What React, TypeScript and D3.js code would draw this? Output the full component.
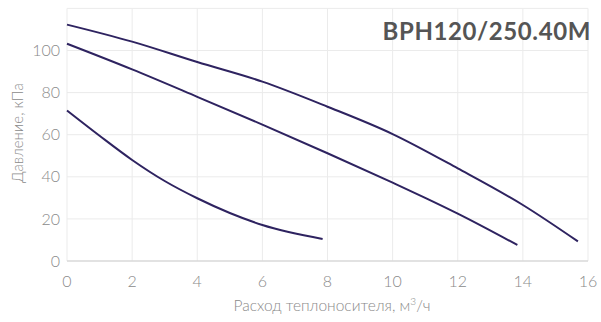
import { useEffect, useRef } from "react"
import * as d3 from "d3"

const title = "BPH120/250.40M"
const xTicks = [0, 2, 4, 6, 8, 10, 12, 14, 16]
const yTicks = [0, 20, 40, 60, 80, 100, 120]

// curves: [flow m3/h, pressure kPa]
const highSpeed: [number, number][] = [
  [0, 112.3], [2, 104.2], [4, 94.5], [6, 85.2], [8, 73.3], [10, 60.3],
  [12, 44], [14, 26.6], [15.69, 9.3],
]
const midSpeed: [number, number][] = [
  [0, 103.2], [2, 91], [4, 78], [6, 64.8], [8, 51.2], [10, 37.2],
  [11, 30], [12, 22.5], [13.83, 7.6],
]
const lowSpeed: [number, number][] = [
  [0, 71.5], [1, 59.5], [2, 48], [3, 38], [4, 29.8], [5, 22.8],
  [6, 17.1], [7.85, 10.5],
]
const curves = [highSpeed, midSpeed, lowSpeed]

const W = 601
const H = 322

const App = () => {
  const svgRef = useRef<SVGSVGElement>(null)

  useEffect(() => {
    document.body.style.margin = "0"
    const svg = d3.select(svgRef.current)
    svg.selectAll("*").remove()

    const x = d3.scaleLinear().domain([0, 16]).range([67, 588])
    const y = d3.scaleLinear().domain([0, 120]).range([261, 8.4])
    const font = "Lato, 'Noto Sans', sans-serif"

    const grid = svg.append("g")
    grid.selectAll("line.v")
      .data(xTicks)
      .join("line")
      .attr("x1", (d) => x(d)).attr("x2", (d) => x(d))
      .attr("y1", y(120)).attr("y2", y(0))
      .attr("stroke", "#ebebeb").attr("stroke-width", 1)
    grid.selectAll("line.h")
      .data(yTicks)
      .join("line")
      .attr("x1", x(0)).attr("x2", x(16))
      .attr("y1", (d) => y(d)).attr("y2", (d) => y(d))
      .attr("stroke", (d) => (d === 0 ? "#d8d8d8" : "#ebebeb"))
      .attr("stroke-width", (d) => (d === 0 ? 1.5 : 1))

    // tick labels
    svg.append("g").selectAll("text")
      .data(yTicks.filter((d) => d < 120))
      .join("text")
      .attr("x", 60).attr("y", (d) => y(d))
      .attr("dy", "0.35em")
      .attr("text-anchor", "end")
      .style("font-family", font).style("font-weight", 300)
      .style("font-size", "16px").style("fill", "#8a8a8a")
      .text((d) => d)
    svg.append("g").selectAll("text")
      .data(xTicks)
      .join("text")
      .attr("x", (d) => x(d)).attr("y", 287)
      .attr("text-anchor", "middle")
      .style("font-family", font).style("font-weight", 300)
      .style("font-size", "16px").style("fill", "#8a8a8a")
      .text((d) => d)

    // curves
    const line = d3.line<[number, number]>()
      .x((d) => x(d[0]))
      .y((d) => y(d[1]))
      .curve(d3.curveMonotoneX)
    svg.append("g").selectAll("path")
      .data(curves)
      .join("path")
      .attr("d", (d) => line(d))
      .attr("fill", "none")
      .attr("stroke", "#2e2360")
      .attr("stroke-width", 2)

    // title
    svg.append("text")
      .attr("x", 591).attr("y", 40)
      .attr("text-anchor", "end")
      .style("font-family", font).style("font-weight", 700)
      .style("font-size", "24px").style("letter-spacing", "0.6px")
      .style("fill", "#555555")
      .text(title)

    // axis titles
    svg.append("text")
      .attr("transform", "translate(23,133) rotate(-90)")
      .attr("text-anchor", "middle")
      .style("font-family", font).style("font-weight", 300)
      .style("font-size", "15px").style("fill", "#8a8a8a")
      .text("Давление, кПа")

    const xl = svg.append("text")
      .attr("x", 332).attr("y", 311)
      .attr("text-anchor", "middle")
      .style("font-family", font).style("font-weight", 300)
      .style("font-size", "15.5px").style("fill", "#8a8a8a")
    xl.append("tspan").text("Расход теплоносителя, м")
    xl.append("tspan").attr("dy", -6).style("font-size", "10px").text("3")
    xl.append("tspan").attr("dy", 6).text("/ч")
  }, [])

  return <svg ref={svgRef} width={W} height={H} style={{ display: "block" }}></svg>
}

export default App
